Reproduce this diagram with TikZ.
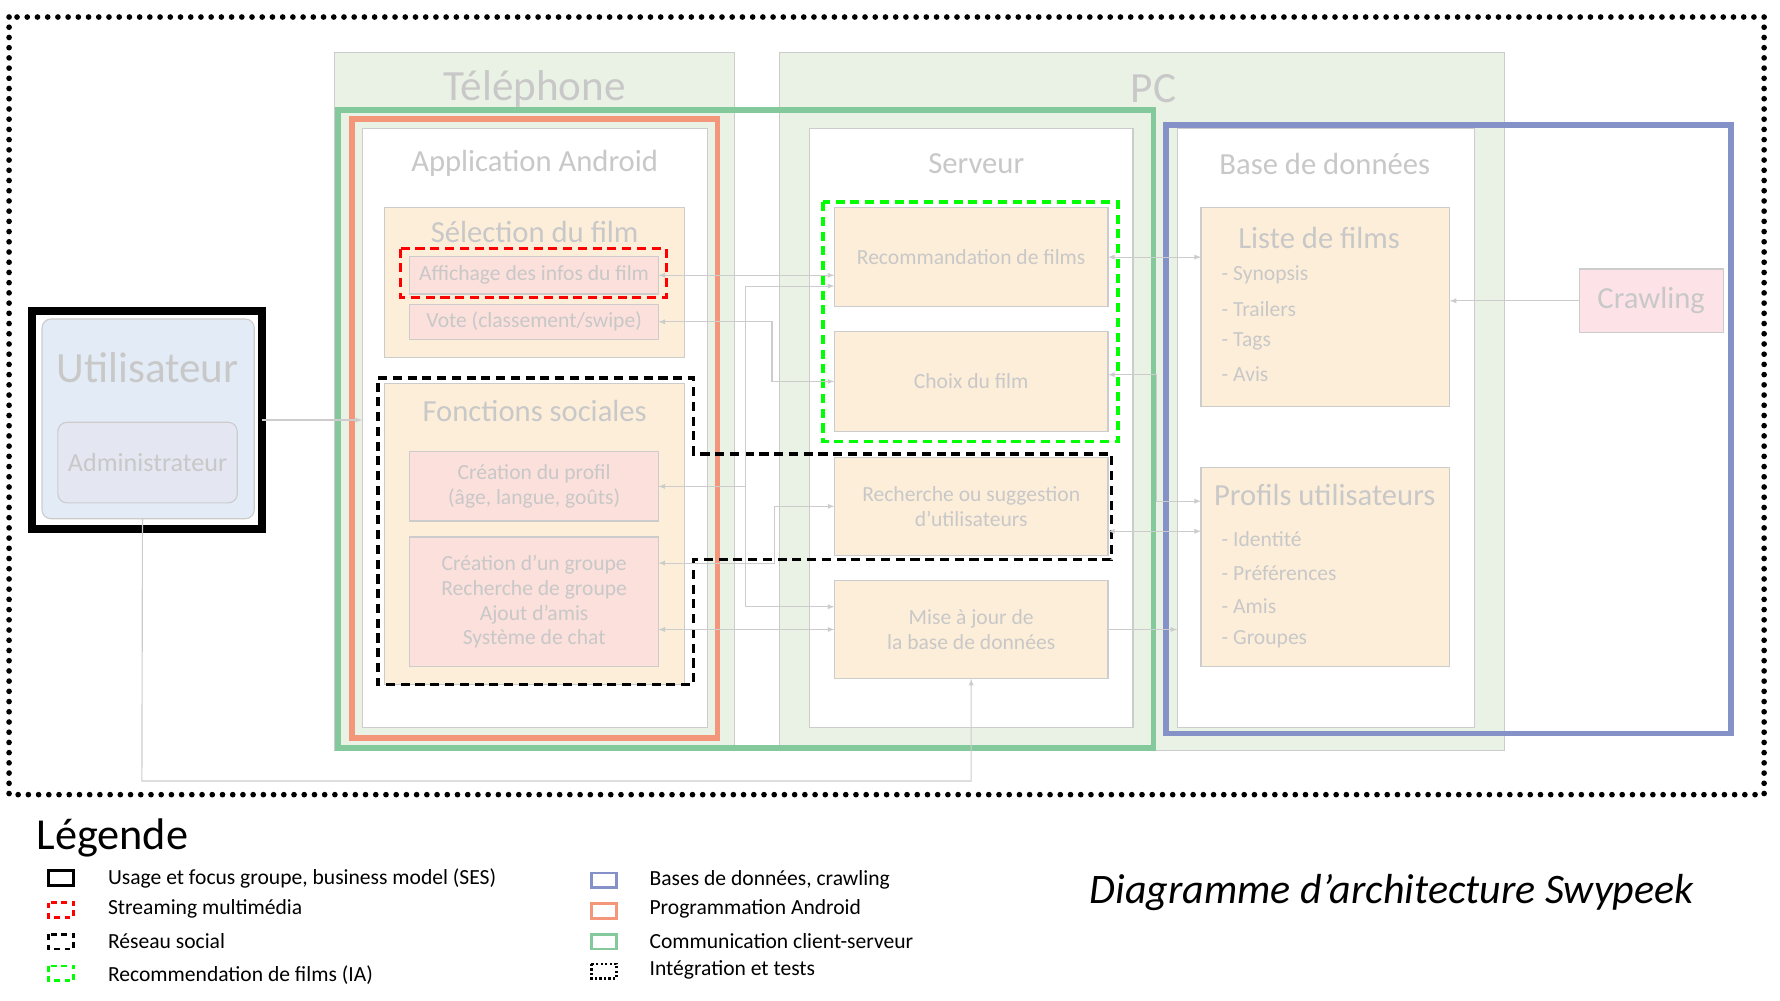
\documentclass[tikz,border=0pt]{standalone}
\usepackage{fontspec}
\setmainfont{Carlito}

\definecolor{txtgray}{RGB}{200,200,200}
\definecolor{edgegray}{RGB}{204,204,204}
\definecolor{panelgreen}{RGB}{234,242,230}
\definecolor{peach}{RGB}{253,238,218}
\definecolor{rose}{RGB}{251,224,220}
\definecolor{userblue}{RGB}{227,236,246}
\definecolor{adminblue}{RGB}{228,231,242}
\definecolor{crawlpink}{RGB}{253,227,232}
\definecolor{comgreen}{RGB}{131,201,155}
\definecolor{droidorange}{RGB}{244,150,122}
\definecolor{dbblue}{RGB}{133,146,200}
\definecolor{iagreen}{RGB}{0,255,0}
\definecolor{streamred}{RGB}{255,0,0}

\tikzset{
  box/.style 2 args={draw=edgegray, line width=1pt, anchor=north west, inner sep=0,
    outer sep=0, minimum width=#1, minimum height=#2},
  txt/.style={text=txtgray, inner sep=0},
  bigtxt/.style={txt, font=\fontsize{38}{44}\selectfont},
  headtxt/.style={txt, font=\fontsize{27}{30}\selectfont},
  itemtxt/.style={txt, font=\fontsize{19}{22}\selectfont, align=center},
  listtxt/.style={txt, font=\fontsize{19}{22}\selectfont, anchor=west},
  link/.style={draw=edgegray, line width=1pt, >=latex},
  legtxt/.style={anchor=west, inner sep=0, font=\fontsize{19}{22}\selectfont},
  teamline/.style={line width=5pt},
  teamdash/.style={line width=3pt, dash pattern=on 8pt off 5pt},
  testdots/.style={line width=5pt, dash pattern=on 0pt off 9pt, line cap=round},
}

\begin{document}
\begin{tikzpicture}[x=1pt, y=-1pt]
\useasboundingbox (0,0) rectangle (1568,881);

% integration et tests
\draw[testdots] (8,15) rectangle (1554,700);

% machines
\node[box={352}{615}, fill=panelgreen] (tel) at (295,46) {};
\node[box={638}{615}, fill=panelgreen] (pc) at (687,46) {};
\node[bigtxt] (teltitle) at (471,78) {Téléphone};
\node[bigtxt] (pctitle) at (1016,78) {PC};

% equipes
\draw[teamline, comgreen] (298,97) rectangle (1016,659);
\draw[teamline, droidorange] (310,105) rectangle (632,650);
\draw[teamline, dbblue] (1027,110) rectangle (1525,646);

% application android
\node[box={304}{528}, fill=white] (app) at (319,113) {};
\node[headtxt] (apptitle) at (471,144) {Application Android};

\node[box={264}{132}, fill=peach] (sel) at (339,183) {};
\node[headtxt] (seltitle) at (471,204) {Sélection du film};
\node[box={219}{33}, fill=rose] (aff) at (361,226) {};
\node[itemtxt] (afftxt) at (aff.center) {Affichage des infos du film};
\node[box={219}{31}, fill=rose] (vote) at (361,268) {};
\node[itemtxt] (votetxt) at (vote.center) {Vote (classement/swipe)};

\node[box={264}{265}, fill=peach] (soc) at (339,338) {};
\node[headtxt] (soctitle) at (471,362) {Fonctions sociales};
\node[box={219}{61}, fill=rose] (profil) at (361,398) {};
\node[itemtxt] (profiltxt) at (profil.center) {Création du profil\\(âge, langue, goûts)};
\node[box={219}{114}, fill=rose] (groupe) at (361,473) {};
\node[itemtxt] (groupetxt) at (groupe.center) {Création d’un groupe\\Recherche de groupe\\Ajout d’amis\\Système de chat};

% serveur
\node[box={285}{528}, fill=white] (serv) at (713,113) {};
\node[headtxt] (servtitle) at (860,144) {Serveur};
\node[box={241}{87}, fill=peach] (reco) at (735,183) {};
\node[itemtxt] (recotxt) at (reco.center) {Recommandation de films};
\node[box={241}{88}, fill=peach] (choix) at (735,292) {};
\node[itemtxt] (choixtxt) at (choix.center) {Choix du film};
\node[box={241}{86}, fill=peach] (rech) at (735,403) {};
\node[itemtxt] (rechtxt) at (rech.center) {Recherche ou suggestion\\d’utilisateurs};
\node[box={241}{87}, fill=peach] (maj) at (735,511) {};
\node[itemtxt] (majtxt) at (maj.center) {Mise à jour de\\la base de données};

% base de donnees
\node[box={262}{528}, fill=white] (bd) at (1037,113) {};
\node[headtxt] (bdtitle) at (1167,144) {Base de données};
\node[box={219}{175}, fill=peach] (liste) at (1058,183) {};
\node[headtxt] (listetitle) at (1162,210) {Liste de films};
\node[listtxt] (synopsis) at (1076,242) {- Synopsis};
\node[listtxt] (trailers) at (1076,272) {- Trailers};
\node[listtxt] (tags) at (1076,301) {- Tags};
\node[listtxt] (avis) at (1076,330) {- Avis};
\node[box={219}{175}, fill=peach] (profils) at (1058,412) {};
\node[headtxt] (profilstitle) at (1167,436) {Profils utilisateurs};
\node[listtxt] (identite) at (1076,475) {- Identité};
\node[listtxt] (pref) at (1076,505) {- Préférences};
\node[listtxt] (amis) at (1076,534) {- Amis};
\node[listtxt] (groupes) at (1076,563) {- Groupes};

\node[box={127}{56}, fill=crawlpink] (crawl) at (1391,237) {};
\node[headtxt] (crawltxt) at (crawl.center) {Crawling};

% utilisateur
\node[box={203}{192}, draw=black, line width=7pt] (usage) at (28,274) {};
\node[box={187}{176}, fill=userblue, rounded corners=8pt] (userin) at (37,281) {};
\node[bigtxt] (usertxt) at (130,324) {Utilisateur};
\node[box={158}{71}, fill=adminblue, rounded corners=8pt] (admin) at (51,372) {};
\node[txt, font=\fontsize{23}{26}\selectfont] (admintxt) at (admin.center) {Administrateur};

% sous-projets
\draw[teamdash, streamred] (353,219) rectangle (587,262);
\draw[teamdash, iagreen] (725,178) rectangle (985,389);
\draw[teamdash] (333,333) -- (611,333) -- (611,400) -- (979,400) -- (979,493)
  -- (611,493) -- (611,603) -- (333,603) -- cycle;

% liens
\draw[link,->] (usage.east) -- (usage.east -| app.west);
\coordinate (userfoot) at ([xshift=-5pt]userin.south);
\coordinate (adminbus) at (125,688);
\draw[link,->] (userfoot) -- (adminbus) -| (maj.south);

\draw[link,<->] (aff.east) -- (aff.east -| reco.west);
\draw[link,<->] (vote.east) -- ++(100,0) |- (choix.west);
\coordinate (bustop) at (657,252);
\draw[link,->] (bustop) -- (bustop -| reco.west);
\draw[link,->] (bustop) |- (profil.east);
\draw[link,->] (bustop) |- ([yshift=20pt]maj.west);
\draw[link,<->] ([yshift=34pt]groupe.east) -- ++(102,0) |- (rech.west);
\draw[link,<->] (maj.west) -- (maj.west -| groupe.east);

\draw[link,<->] (reco.east) -- (reco.east -| liste.west);
\draw[link,<->] ([yshift=6pt]choix.east) -- ++(43,0) |- ([yshift=58pt]profils.west);
\coordinate (rechout) at ([yshift=-22pt]rech.east);
\draw[link,<->] (rechout) -- (rechout -| profils.west);
\draw[link,->] (maj.east) -- (maj.east -| bd.west);
\draw[link,->] (crawl.west) -- (crawl.west -| liste.east);

% legende
\node[anchor=base west, inner sep=0, font=\fontsize{39}{44}\selectfont] (legtitle) at (32,748) {Légende};

\draw[line width=2.5pt] (43,767) rectangle (65,780);
\draw[streamred, line width=2.5pt, dash pattern=on 5pt off 4pt] (43,795) rectangle (65,808);
\draw[line width=2.5pt, dash pattern=on 5pt off 4pt] (43,823) rectangle (65,836);
\draw[iagreen, line width=2.5pt, dash pattern=on 5pt off 4pt] (43,851) rectangle (65,864);
\node[legtxt] (legses) at (95,774) {Usage et focus groupe, business model (SES)};
\node[legtxt] (legstream) at (95,801) {Streaming multimédia};
\node[legtxt] (legsocial) at (95,829) {Réseau social};
\node[legtxt] (legia) at (95,859) {Recommendation de films (IA)};

\draw[dbblue, line width=2.5pt] (521,769) rectangle (543,782);
\draw[droidorange, line width=2.5pt] (521,796) rectangle (543,809);
\draw[comgreen, line width=2.5pt] (521,823) rectangle (543,836);
\draw[line width=2pt, dash pattern=on 2pt off 2pt] (521,849) rectangle (543,862);
\node[legtxt] (legbd) at (572,775) {Bases de données, crawling};
\node[legtxt] (legdroid) at (572,801) {Programmation Android};
\node[legtxt] (legcom) at (572,829) {Communication client-serveur};
\node[legtxt] (legtests) at (572,854) {Intégration et tests};

\node[inner sep=0, font=\itshape\fontsize{37}{42}\selectfont] (title) at (1226,786) {Diagramme d’architecture Swypeek};
\end{tikzpicture}
\end{document}
